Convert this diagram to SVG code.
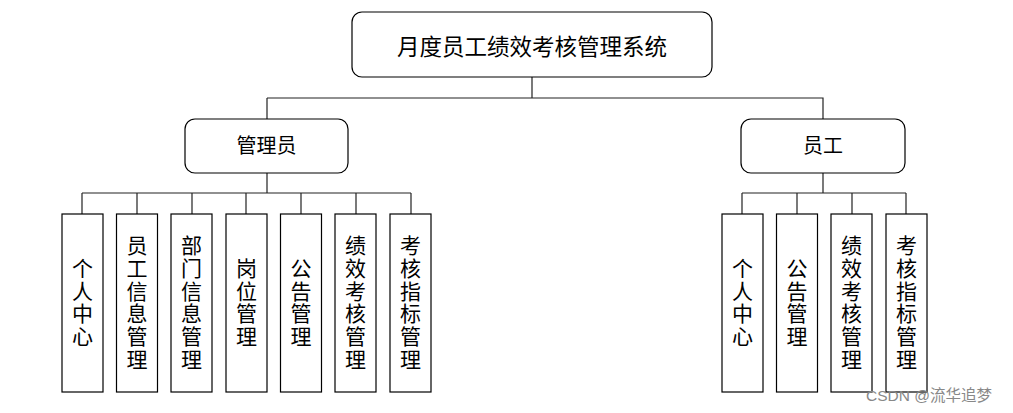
<svg xmlns="http://www.w3.org/2000/svg" width="1013" height="413" viewBox="0 0 1013 413">
<style>
.box{fill:#fff;stroke:#000;stroke-width:1.2}
.ln{stroke:#222;stroke-width:1.2;fill:none}
.t{font-family:"Noto Sans CJK SC","Noto Sans",sans-serif;fill:#000;text-anchor:middle}
.v{font-size:21px;writing-mode:vertical-rl;letter-spacing:1.7px}
</style>
<rect width="1013" height="413" fill="#fff"/>
<g id="connectors">
<path class="ln" d="M532 77V98M267 98H823V119M267 98V119"/>
<path class="ln" d="M267 173V193M82 193H411M82 193V214M137 193V214M192 193V214M246 193V214M301 193V214M356 193V214M411 193V214"/>
<path class="ln" d="M823 173V193M742 193H906M742 193V214M797 193V214M852 193V214M906 193V214"/>
</g>
<g id="root"><rect class="box" x="352" y="12" width="360" height="65" rx="10"/><text class="t" x="532" y="55" font-size="22.5">月度员工绩效考核管理系统</text></g>
<g id="admin"><rect class="box" x="185" y="119" width="163" height="54" rx="10"/><text class="t" x="266.5" y="153" font-size="20">管理员</text></g>
<g id="employee"><rect class="box" x="741" y="119" width="164" height="54" rx="10"/><text class="t" x="823" y="153" font-size="20">员工</text></g>
<g id="a1"><rect class="box" x="62" y="214" width="41" height="178"/><text class="t v" x="82.5" y="303">个人中心</text></g>
<g id="a2"><rect class="box" x="116.5" y="214" width="41" height="178"/><text class="t v" x="137" y="303">员工信息管理</text></g>
<g id="a3"><rect class="box" x="171" y="214" width="41" height="178"/><text class="t v" x="191.5" y="303">部门信息管理</text></g>
<g id="a4"><rect class="box" x="226" y="214" width="41" height="178"/><text class="t v" x="246.5" y="303">岗位管理</text></g>
<g id="a5"><rect class="box" x="280.5" y="214" width="41" height="178"/><text class="t v" x="301" y="303">公告管理</text></g>
<g id="a6"><rect class="box" x="335" y="214" width="41" height="178"/><text class="t v" x="355.5" y="303">绩效考核管理</text></g>
<g id="a7"><rect class="box" x="390" y="214" width="41" height="178"/><text class="t v" x="410.5" y="303">考核指标管理</text></g>
<g id="e1"><rect class="box" x="722" y="214" width="41" height="178"/><text class="t v" x="742.5" y="303">个人中心</text></g>
<g id="e2"><rect class="box" x="776.5" y="214" width="41" height="178"/><text class="t v" x="797" y="303">公告管理</text></g>
<g id="e3"><rect class="box" x="831" y="214" width="41" height="178"/><text class="t v" x="851.5" y="303">绩效考核管理</text></g>
<g id="e4"><rect class="box" x="886" y="214" width="41" height="178"/><text class="t v" x="906.5" y="303">考核指标管理</text></g>
<text x="929" y="401" font-family="'Liberation Sans','Noto Sans CJK SC',sans-serif" font-size="15.5" fill="#888" text-anchor="middle">CSDN @流华追梦</text>
</svg>
